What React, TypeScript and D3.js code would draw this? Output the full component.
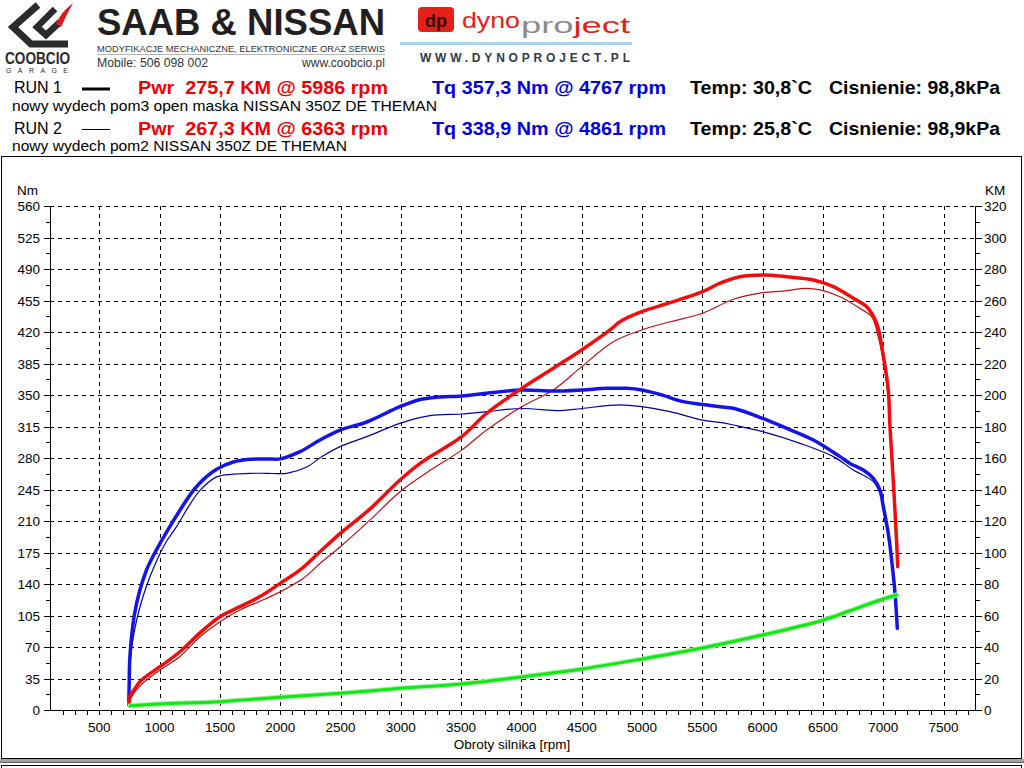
import React from 'react';
import * as d3 from 'd3';

// ---------- data ----------
const rpmTicks = [500, 1000, 1500, 2000, 2500, 3000, 3500, 4000, 4500, 5000, 5500, 6000, 6500, 7000, 7500];
const nmTicks = [0, 35, 70, 105, 140, 175, 210, 245, 280, 315, 350, 385, 420, 455, 490, 525, 560];
const kmTicks = [0, 20, 40, 60, 80, 100, 120, 140, 160, 180, 200, 220, 240, 260, 280, 300, 320];

// RUN 1 torque (Nm)
const run1TqRpm = [745, 748, 752, 765, 790, 830, 890, 950, 1003, 1086, 1183, 1280, 1362, 1473, 1611, 1750, 1888, 2000, 2164, 2330, 2496, 2717, 2993, 3160, 3300, 3505, 3712, 4003, 4265, 4500, 4707, 4873, 4998, 5149, 5343, 5503, 5647, 5757, 6001, 6200, 6421, 6642, 6724, 6835, 6918, 6973, 7001, 7042, 7070, 7098, 7117];
const run1TqNm = [10, 30, 55, 78, 105, 130, 155, 172, 185, 204, 225, 244, 256, 267.5, 275.5, 278.5, 279, 279, 287, 300, 311, 320, 337, 345, 347.5, 349, 352, 355.6, 354.4, 355.6, 357.4, 357.4, 355.6, 350.7, 342.6, 339.6, 337, 335.2, 324, 313, 300, 281.5, 274, 266.7, 257.4, 244.4, 225.9, 196.3, 166.7, 129.6, 90.7];
// RUN 1 power (KM)
const run1PwrRpm = [745, 755, 790, 837, 900, 1003, 1169, 1335, 1501, 1666, 1832, 2000, 2164, 2330, 2496, 2750, 2993, 3160, 3242, 3505, 3712, 4003, 4265, 4500, 4735, 4817, 4998, 5232, 5503, 5647, 5812, 6001, 6200, 6421, 6587, 6752, 6863, 6946, 7001, 7042, 7056, 7084, 7112, 7120];
const run1PwrKm = [3, 9, 13, 18, 22, 27.5, 37, 49, 59.2, 65.6, 72, 80.4, 88.9, 100.5, 112, 128, 146, 156.6, 160.8, 173.5, 188.4, 204.2, 217, 228.6, 241.3, 246.5, 252.9, 258.6, 265.6, 271, 275.1, 276.2, 275.1, 273, 268.8, 261.4, 256, 245.5, 225, 203.2, 180, 145, 105.8, 91];

// RUN 2 torque (Nm)
const run2TqRpm = [745, 755, 775, 810, 860, 920, 990, 1060, 1142, 1240, 1335, 1473, 1611, 1750, 1888, 2054, 2220, 2350, 2496, 2717, 2993, 3242, 3505, 3712, 4003, 4323, 4500, 4817, 4998, 5232, 5503, 5647, 5757, 6001, 6311, 6587, 6752, 6918, 6973, 7010, 7045];
const run2TqNm = [20, 50, 75, 100, 125, 148, 170, 188, 204, 226, 244, 259, 262, 263, 263, 263, 270, 282, 292.6, 303.7, 318.5, 327, 328.9, 331.5, 335, 332.6, 335, 339, 337, 331.5, 322, 319.6, 316.7, 309.3, 296.3, 281.5, 266.7, 253.7, 240.8, 220, 190];
// RUN 2 power (KM)
const run2PwrRpm = [745, 755, 800, 860, 1003, 1169, 1335, 1501, 1666, 1832, 2000, 2192, 2330, 2496, 2750, 2993, 3256, 3505, 3712, 4003, 4265, 4500, 4762, 4998, 5232, 5503, 5757, 6001, 6172, 6366, 6476, 6642, 6807, 6904, 6959, 7000, 7040];
const run2PwrKm = [2, 6.3, 12, 17, 25.4, 34, 46.5, 56, 63.5, 69, 75, 83.6, 93, 103.5, 121, 138.6, 152.8, 165, 177.8, 192.6, 203.2, 218, 233.8, 241.3, 246.5, 251.9, 260.8, 265, 266, 267.7, 266.7, 262.4, 255, 249.7, 237, 222, 200];

// loss curve (KM)
const lossRpm = [755, 1000, 1500, 2000, 2500, 3000, 3500, 4000, 4500, 5000, 5500, 6000, 6500, 6724, 7000, 7112];
const lossKm = [2.7, 3.8, 5.3, 8.1, 10.6, 13.8, 16.5, 21, 26, 32.4, 39.4, 47.6, 57, 63, 70.5, 73];

const runLabels = ['RUN 1', 'RUN 2'];
const pwrLabels = ['Pwr  275,7 KM @ 5986 rpm', 'Pwr  267,3 KM @ 6363 rpm'];
const tqLabels = ['Tq 357,3 Nm @ 4767 rpm', 'Tq 338,9 Nm @ 4861 rpm'];
const tempLabels = ['Temp: 30,8`C', 'Temp: 25,8`C'];
const pressLabels = ['Cisnienie: 98,8kPa', 'Cisnienie: 98,9kPa'];
const runNotes = ['nowy wydech pom3 open maska NISSAN 350Z DE THEMAN', 'nowy wydech pom2 NISSAN 350Z DE THEMAN'];

// ---------- layout ----------
const X0 = 50, X1 = 975, YT = 206, YB = 710;
const x = d3.scaleLinear().domain([500, 7500]).range([99.3, 943.5]);
const yNm = d3.scaleLinear().domain([0, 560]).range([YB, YT]);
const yKm = d3.scaleLinear().domain([0, 320]).range([YB, YT]);

const NARROW = '"Liberation Sans Narrow", "Arial Narrow", "Liberation Sans", Arial, sans-serif';
const SANS = '"Liberation Sans", Arial, sans-serif';

function makePath(xs: number[], ys: number[], ys2: d3.ScaleLinear<number, number>) {
  const gen = d3.line<number>()
    .x((_, i) => x(xs[i]))
    .y((v) => ys2(v))
    .curve(d3.curveCatmullRom.alpha(0.5));
  return gen(ys) || '';
}

const r = (v: number) => Math.round(v) + 0.5;

export default function App() {
  const minorX = d3.range(200, 7701, 100);
  const minorNm = nmTicks.slice(0, -1).map((v) => v + 17.5);
  const minorKm = kmTicks.slice(0, -1).map((v) => v + 10);
  const rowBase = [94, 135];
  const noteBase = [111, 151];

  return (
    <div style={{ position: 'absolute', left: 0, top: 0 }}>
      <svg width={1024} height={768} style={{ display: 'block', background: '#fff' }}>
        <rect x={0} y={0} width={1024} height={768} fill="#fff" />

        {/* ---------- header: COOBCIO logo ---------- */}
        <g>
          <path d="M38 5 L13 27 L31 44 L68 44" fill="none" stroke="#2b2b2b" strokeWidth={7} strokeLinejoin="miter" />
          <path d="M55 9 L37 27 L46 35 L60 22" fill="none" stroke="#2b2b2b" strokeWidth={6.5} strokeLinejoin="miter" />
          <path d="M56 24 Q61 12 73 3 Q67 14 61 27 Z" fill="#e01818" />
          <text x={5} y={64} fontFamily={NARROW} fontSize={16} fontWeight={700} fill="#2b2b2b" textLength={65} lengthAdjust="spacingAndGlyphs">COOBCIO</text>
          <text x={6} y={73} fontFamily={SANS} fontSize={7} fill="#2b2b2b" textLength={62} lengthAdjust="spacing">GARAGE</text>
        </g>
        <g>
          <text x={97} y={35} fontFamily={SANS} fontSize={37} fontWeight={700} fill="#231f20" textLength={288} lengthAdjust="spacingAndGlyphs">SAAB &amp; NISSAN</text>
          <text x={97} y={51.5} fontFamily={NARROW} fontSize={9.5} fill="#333" textLength={288} lengthAdjust="spacingAndGlyphs">MODYFIKACJE MECHANICZNE, ELEKTRONICZNE ORAZ SERWIS</text>
          <line x1={97} x2={385} y1={54.5} y2={54.5} stroke="#b8b8b8" strokeWidth={1} />
          <text x={97} y={67} fontFamily={NARROW} fontSize={12.5} fill="#333" textLength={111} lengthAdjust="spacingAndGlyphs">Mobile: 506 098 002</text>
          <text x={385} y={67} textAnchor="end" fontFamily={NARROW} fontSize={12.5} fill="#333" textLength={83} lengthAdjust="spacingAndGlyphs">www.coobcio.pl</text>
        </g>
        {/* ---------- header: dyno project ---------- */}
        <g>
          <rect x={418} y={7} width={36} height={25} rx={4} fill="#e32119" />
          <text x={436} y={27} textAnchor="middle" fontFamily={SANS} fontSize={18} fontWeight={700} fill="#3a0a08">dp</text>
          <text x={462} y={28} fontFamily={SANS} fontSize={22} fill="#e32119" textLength={58} lengthAdjust="spacingAndGlyphs">dyno</text>
          <text x={521} y={33} fontFamily={SANS} fontSize={22} textLength={109} lengthAdjust="spacingAndGlyphs">
            <tspan fill="#8a8a8a">pro</tspan><tspan fill="#e32119">ject</tspan>
          </text>
          <rect x={400} y={42} width={232} height={3} fill="#a9d3ee" />
          <text x={420} y={62} fontFamily={SANS} fontSize={12} fontWeight={700} fill="#2e3b4c" textLength={210} lengthAdjust="spacing">WWW.DYNOPROJECT.PL</text>
        </g>

        {/* ---------- legend ---------- */}
        {[0, 1].map((i) => (
          <g key={'leg' + i}>
            <text x={14} y={rowBase[i] - 1} fontFamily={NARROW} fontSize={16} fill="#000" textLength={48} lengthAdjust="spacingAndGlyphs">{runLabels[i]}</text>
            <line x1={82} x2={110} y1={i === 0 ? 89 : 129.5} y2={i === 0 ? 89 : 129.5} stroke="#000" strokeWidth={i === 0 ? 3 : 1} />
            <text x={138} y={rowBase[i]} fontFamily={NARROW} fontSize={19} fontWeight={700} fill="#f00000" style={{ whiteSpace: 'pre' }} textLength={250} lengthAdjust="spacingAndGlyphs">{pwrLabels[i]}</text>
            <text x={432} y={rowBase[i]} fontFamily={NARROW} fontSize={19} fontWeight={700} fill="#0000e0" textLength={234} lengthAdjust="spacingAndGlyphs">{tqLabels[i]}</text>
            <text x={690} y={rowBase[i]} fontFamily={NARROW} fontSize={19} fontWeight={700} fill="#000" textLength={122} lengthAdjust="spacingAndGlyphs">{tempLabels[i]}</text>
            <text x={829} y={rowBase[i]} fontFamily={NARROW} fontSize={19} fontWeight={700} fill="#000" textLength={171} lengthAdjust="spacingAndGlyphs">{pressLabels[i]}</text>
            <text x={12} y={noteBase[i]} fontFamily={NARROW} fontSize={14} fill="#000" textLength={i === 0 ? 425 : 335} lengthAdjust="spacingAndGlyphs">{runNotes[i]}</text>
          </g>
        ))}

        {/* ---------- chart frame ---------- */}
        <rect x={1.5} y={156.5} width={1020} height={602} fill="none" stroke="#000" strokeWidth={1} />
        <rect x={0} y={759} width={1024} height={3} fill="#a0a0a0" />
        <line x1={0} x2={1024} y1={762.5} y2={762.5} stroke="#606060" />
        <rect x={1.5} y={765.5} width={1020} height={10} fill="none" stroke="#000" />

        {/* grid */}
        <g stroke="#000" strokeWidth={1} strokeDasharray="4,4" shapeRendering="crispEdges">
          {nmTicks.filter((v) => v > 0).map((v) => (
            <line key={'gh' + v} x1={X0} x2={X1} y1={r(yNm(v))} y2={r(yNm(v))} />
          ))}
          {rpmTicks.map((v) => (
            <line key={'gv' + v} x1={r(x(v))} x2={r(x(v))} y1={YT} y2={YB} />
          ))}
        </g>

        {/* axes */}
        <g stroke="#000" strokeWidth={1} shapeRendering="crispEdges">
          <line x1={X0 + 0.5} x2={X0 + 0.5} y1={YT} y2={YB + 1} />
          <line x1={X1 + 0.5} x2={X1 + 0.5} y1={YT} y2={YB + 1} />
          <line x1={X0} x2={X1 + 1} y1={YB + 0.5} y2={YB + 0.5} />
          {nmTicks.map((v) => (
            <line key={'tl' + v} x1={X0 - 6} x2={X0} y1={r(yNm(v))} y2={r(yNm(v))} />
          ))}
          {minorNm.map((v) => (
            <line key={'tlm' + v} x1={X0 - 4} x2={X0} y1={r(yNm(v))} y2={r(yNm(v))} />
          ))}
          {kmTicks.map((v) => (
            <line key={'tr' + v} x1={X1} x2={X1 + 7} y1={r(yKm(v))} y2={r(yKm(v))} />
          ))}
          {minorKm.map((v) => (
            <line key={'trm' + v} x1={X1} x2={X1 + 5} y1={r(yKm(v))} y2={r(yKm(v))} />
          ))}
          {minorX.map((v) => (
            <line key={'tx' + v} x1={r(x(v))} x2={r(x(v))} y1={YB} y2={YB + 5} />
          ))}
        </g>

        {/* tick labels */}
        <g fontFamily={SANS} fontSize={13.5} fill="#000">
          {nmTicks.map((v) => (
            <text key={'ln' + v} x={40} y={yNm(v) + 5} textAnchor="end">{v}</text>
          ))}
          {kmTicks.map((v) => (
            <text key={'lk' + v} x={984} y={yKm(v) + 5}>{v}</text>
          ))}
          {rpmTicks.map((v) => (
            <text key={'lx' + v} x={x(v)} y={732} textAnchor="middle">{v}</text>
          ))}
          <text x={17} y={195}>Nm</text>
          <text x={985} y={195}>KM</text>
          <text x={512} y={749} textAnchor="middle">Obroty silnika [rpm]</text>
        </g>

        {/* curves */}
        <g fill="none" strokeLinejoin="round" strokeLinecap="round">
          <path d={makePath(run2TqRpm, run2TqNm, yNm)} stroke="#0000a8" strokeWidth={1.2} />
          <path d={makePath(run2PwrRpm, run2PwrKm, yKm)} stroke="#c01010" strokeWidth={1.2} />
          <path d={makePath(run1TqRpm, run1TqNm, yNm)} stroke="#1414e6" strokeWidth={3.5} />
          <path d={makePath(run1PwrRpm, run1PwrKm, yKm)} stroke="#f20c0c" strokeWidth={3.5} />
          <path d={makePath(lossRpm, lossKm, yKm)} stroke="#a8eea8" strokeWidth={5} />
          <path d={makePath(lossRpm, lossKm, yKm)} stroke="#12e812" strokeWidth={3} />
        </g>
      </svg>
    </div>
  );
}
